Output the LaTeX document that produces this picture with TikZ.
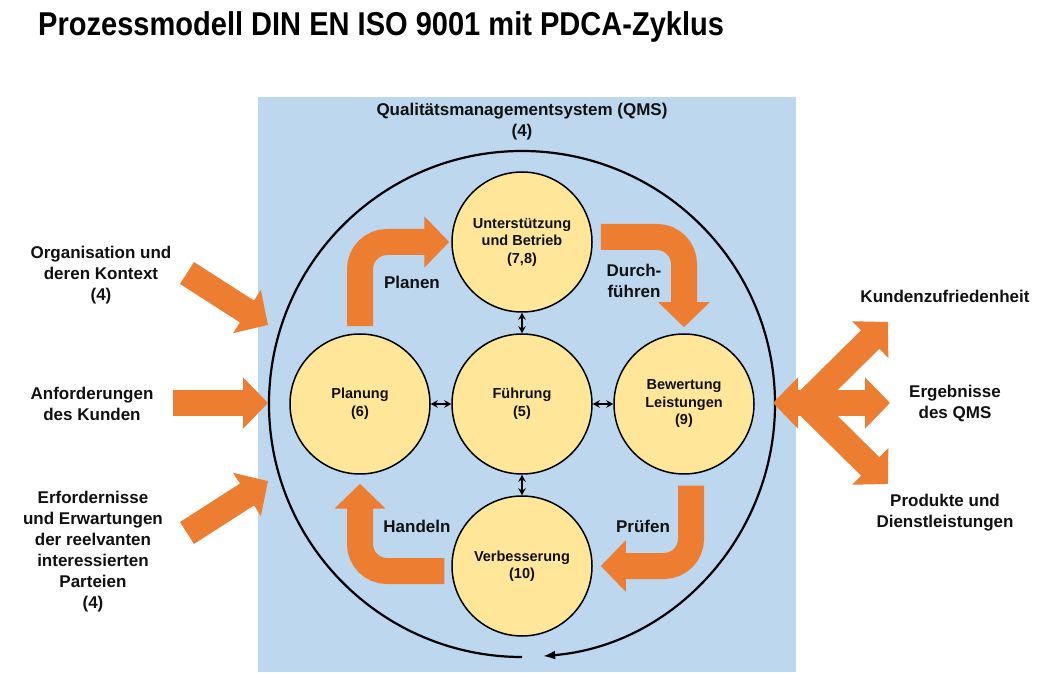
\documentclass[tikz,border=0pt]{standalone}
\usepackage{fontspec}
\setmainfont{Liberation Sans}
\newfontfamily\titlefont[FakeStretch=0.88]{Liberation Sans}
\usetikzlibrary{arrows.meta}
\definecolor{qmsblue}{HTML}{BDD7EE}
\definecolor{pdcaorange}{HTML}{ED7D31}
\definecolor{circyellow}{HTML}{FFE699}
\definecolor{txt}{HTML}{111111}
\begin{document}
\begin{tikzpicture}[x=1pt,y=1pt,
  lbl/.style={font=\bfseries\fontsize{17}{21}\selectfont, text=txt, align=center, inner sep=0pt},
  proc/.style={circle, draw=black, line width=1.5pt, fill=circyellow, minimum size=140pt, inner sep=0pt, align=center, font=\bfseries\fontsize{14.5}{17.5}\selectfont, text=txt},
  flow/.style={draw=pdcaorange, line width=26pt, rounded corners=27pt, -{Triangle[length=25pt,width=50pt]}},
  inflow/.style={draw=pdcaorange, line width=26pt, -{Triangle[length=25pt,width=50pt]}},
  link/.style={draw=black, line width=1.6pt, {Stealth[length=7pt,width=7.5pt]}-{Stealth[length=7pt,width=7.5pt]}},
  cycle/.style={draw=black, line width=2.2pt, -{Latex[length=12pt,width=9pt]}}
]
\useasboundingbox (0,0) rectangle (1046,672);
\fill[qmsblue] (258,0) rectangle (796,575);

\node[anchor=base west, font=\titlefont\bfseries\fontsize{33}{36}\selectfont, text=black, inner sep=0pt] (title) at (38,636) {Prozessmodell DIN EN ISO 9001 mit PDCA-Zyklus};

\node[lbl] (qms) at (522,550) {Qualitätsmanagementsystem (QMS)\\(4)};

% big cycle circle
\coordinate (cc) at (522,268);
\draw[cycle] (522,15) arc[start angle=-90, end angle=-445.2, radius=253];

% process circles
\node[proc] (unt) at (522,430) {Unterstützung\\und Betrieb\\(7,8)};
\node[proc] (plan) at (360,268) {Planung\\(6)};
\node[proc] (fuehr) at (522,268) {Führung\\(5)};
\node[proc] (bew) at (684,268) {Bewertung\\Leistungen\\(9)};
\node[proc] (verb) at (522,106) {Verbesserung\\(10)};

\draw[link] (unt) -- (fuehr);
\draw[link] (fuehr) -- (verb);
\draw[link] (plan) -- (fuehr);
\draw[link] (fuehr) -- (bew);

% PDCA arrows
\draw[flow] ([yshift=7pt]plan.north) |- ([xshift=-2pt]unt.west);
\draw[flow] ([xshift=8pt,yshift=5pt]unt.east) -| ([yshift=6pt]bew.north);
\draw[flow] ([xshift=7pt,yshift=-11pt]bew.south) |- ([xshift=8pt]verb.east);
\draw[flow] ([xshift=-7pt,yshift=-5pt]verb.west) -| ([yshift=-9pt]plan.south);

\node[lbl] (lplan) at (412,390) {Planen};
\node[lbl] (ldurch) at (634,391) {Durch-\\führen};
\node[lbl] (lpruef) at (643,146) {Prüfen};
\node[lbl] (lhand) at (417,146) {Handeln};

% inputs
\node[lbl] (org) at (101,397) {Organisation und\\deren Kontext\\(4)};
\node[lbl] (anf) at (92,268) {Anforderungen\\des Kunden};
\node[lbl] (erf) at (93,120) {Erfordernisse\\und Erwartungen\\der reelvanten\\interessierten\\Parteien\\(4)};

\coordinate (i1a) at (187,399); \coordinate (i1b) at (268,347);
\coordinate (i2a) at (173,269); \coordinate (i2b) at (268,269);
\coordinate (i3a) at (187,139); \coordinate (i3b) at (268,191);
\draw[inflow] (i1a) -- (i1b);
\draw[inflow] (i2a) -- (i2b);
\draw[inflow] (i3a) -- (i3b);

% outputs
\node[lbl] (kund) at (945,376) {Kundenzufriedenheit};
\node[lbl] (erg) at (955,268) {Ergebnisse\\des QMS};
\node[lbl] (prod) at (945,159) {Produkte und\\Dienstleistungen};

\coordinate (rL) at (773,269); \coordinate (rR) at (890,269);
\coordinate (rM) at (806,269);
\coordinate (rU) at (888,350); \coordinate (rD) at (888,188);
\draw[inflow, {Triangle[length=25pt,width=50pt]}-{Triangle[length=25pt,width=50pt]}] (rL) -- (rR);
\draw[inflow] (rM) -- (rU);
\draw[inflow] (rM) -- (rD);
\end{tikzpicture}
\end{document}
